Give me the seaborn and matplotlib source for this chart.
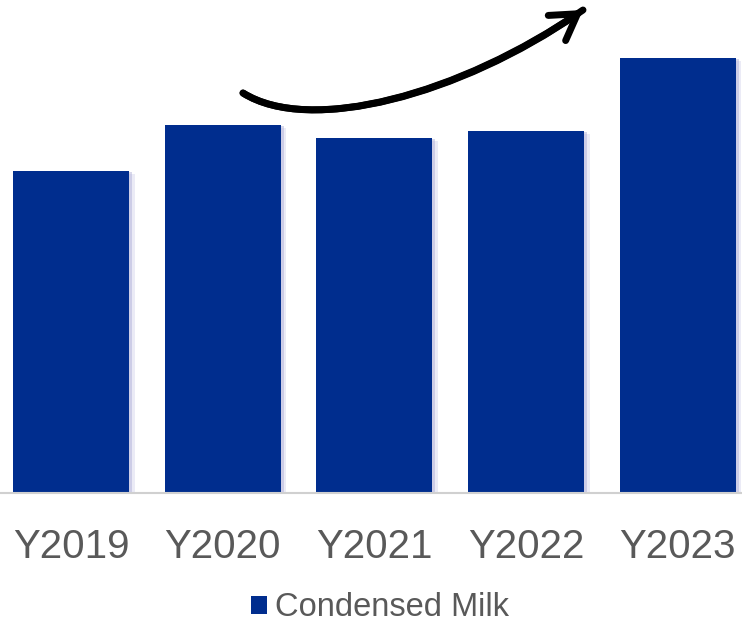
import matplotlib
matplotlib.use("Agg")
import matplotlib.pyplot as plt
import matplotlib.patheffects as pe
from matplotlib.patches import FancyArrowPatch
from matplotlib.path import Path
import seaborn as sns
import pandas as pd

years = ["Y2019", "Y2020", "Y2021", "Y2022", "Y2023"]
values = [322, 368, 355, 362, 435]
series_name = "Condensed Milk"

sns.set_theme(style="white")
plt.rcParams["font.family"] = ["Liberation Sans", "DejaVu Sans"]

df = pd.DataFrame({"year": years, "value": values})

W, H = 742, 625
fig = plt.figure(figsize=(W / 100, H / 100), dpi=100)
ax = fig.add_axes([0.0, (H - 493) / H, 1.0, 493 / H])

bar_color = "#002D8E"
sns.barplot(data=df, x="year", y="value", color=bar_color, width=0.765,
            saturation=1, ax=ax, label=series_name, linewidth=0,
            edgecolor=bar_color)

shadow = [pe.SimplePatchShadow(offset=(2, -1), shadow_rgbFace="#9090c8", alpha=0.35),
          pe.SimplePatchShadow(offset=(4, -2), shadow_rgbFace="#b0b0dd", alpha=0.25),
          pe.Normal()]
for p in ax.patches:
    p.set_path_effects(shadow)

ax.set_xlim(-0.468, 4.423)
ax.set_ylim(0, 493)
ax.set_xlabel("")
ax.set_ylabel("")
ax.set_yticks([])
for s in ["left", "right", "top"]:
    ax.spines[s].set_visible(False)
ax.spines["bottom"].set_color("#d0d0d0")
ax.spines["bottom"].set_linewidth(1.5)
ax.tick_params(axis="x", length=0, pad=25, labelsize=29, labelcolor="#595959")

leg = ax.legend(loc="center", bbox_to_anchor=(0.512, 1 - 608 / H),
                bbox_transform=fig.transFigure, frameon=False,
                fontsize=23.5, handlelength=0.5, handleheight=0.5,
                handletextpad=0.25, borderpad=0)
for t in leg.get_texts():
    t.set_color("#595959")
for h in leg.legend_handles:
    h.set_path_effects([])


def fp(x, y):
    return (x / W, 1 - y / H)


verts = [fp(243, 93), fp(310, 135), fp(460, 95), fp(583, 10)]
codes = [Path.MOVETO, Path.CURVE4, Path.CURVE4, Path.CURVE4]
trend = Path(verts, codes)
arrow = FancyArrowPatch(path=trend, transform=fig.transFigure,
                        arrowstyle="-", lw=5, color="black", capstyle="round")
fig.patches.append(arrow)
arrow2 = FancyArrowPatch(path=trend, transform=fig.transFigure,
                         arrowstyle="->,head_length=18,head_width=11",
                         lw=5, color="black", joinstyle="miter", capstyle="round")
fig.patches.append(arrow2)

fig.savefig("out.png", dpi=100)
